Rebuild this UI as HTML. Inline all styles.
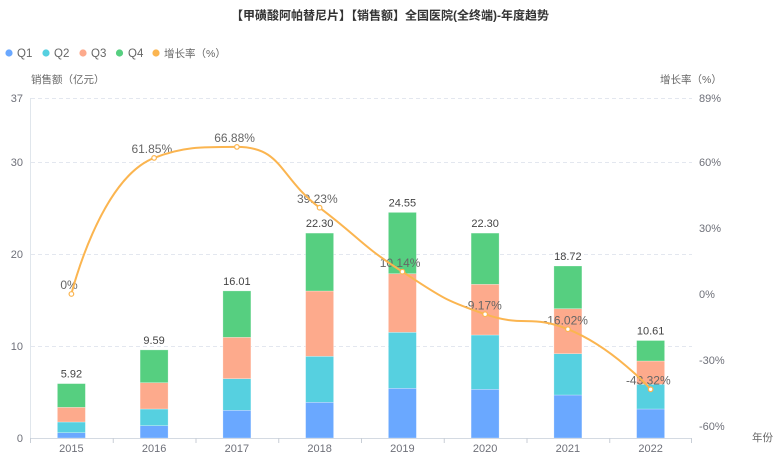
<!DOCTYPE html>
<html>
<head>
<meta charset="utf-8">
<style>
html,body{margin:0;padding:0;background:#fff;}
svg{display:block;}
text{font-family:"Liberation Sans","Noto Sans CJK SC",sans-serif;}
</style>
</head>
<body>
<svg width="775" height="458" viewBox="0 0 775 458" xmlns="http://www.w3.org/2000/svg">
<rect width="775" height="458" fill="#fff"/>
<!-- title -->
<text x="390" y="19.5" text-anchor="middle" font-size="12" font-weight="bold" fill="#333">【甲磺酸阿帕替尼片】【销售额】全国医院(全终端)-年度趋势</text>

<!-- legend -->
<g font-size="11.5" fill="#666">
<circle cx="9" cy="53" r="3.6" fill="#6aa8ff"/><text x="17" y="57">Q1</text>
<circle cx="46" cy="53" r="3.6" fill="#56d0e0"/><text x="54" y="57">Q2</text>
<circle cx="83" cy="53" r="3.6" fill="#fdaa8c"/><text x="91" y="57">Q3</text>
<circle cx="119.5" cy="53" r="3.6" fill="#56cf80"/><text x="128" y="57">Q4</text>
<circle cx="156" cy="53" r="3.6" fill="#fbb550"/><text x="164" y="57" font-size="10.5">增长率（%）</text>
</g>

<!-- axis names -->
<text x="31" y="83" font-size="10.5" fill="#666">销售额（亿元）</text>
<text x="660" y="83" font-size="10.5" fill="#666">增长率（%）</text>
<text x="752" y="441" font-size="10.5" fill="#666">年份</text>

<!-- gridlines -->
<g stroke="#e3e7ef" stroke-width="1" stroke-dasharray="4,3">
<line x1="31" y1="98.5" x2="692" y2="98.5"/>
<line x1="31" y1="162.5" x2="692" y2="162.5"/>
<line x1="31" y1="254.5" x2="692" y2="254.5"/>
<line x1="31" y1="346.5" x2="692" y2="346.5"/>
</g>
<!-- left axis line -->
<line x1="30.5" y1="98" x2="30.5" y2="438" stroke="#e0e6ec" stroke-width="1"/>

<!-- left axis labels -->
<g font-size="11" fill="#6e7079" text-anchor="end">
<text x="23" y="102">37</text>
<text x="23" y="166">30</text>
<text x="23" y="258">20</text>
<text x="23" y="350">10</text>
<text x="23" y="442">0</text>
</g>
<!-- right axis labels -->
<g font-size="11" fill="#6e7079">
<text x="699" y="102">89%</text>
<text x="699" y="166">60%</text>
<text x="699" y="232">30%</text>
<text x="699" y="298">0%</text>
<text x="699" y="364">-30%</text>
<text x="699" y="430">-60%</text>
</g>

<!-- bars -->
<g stroke="rgba(255,255,255,0.45)" stroke-width="0.6">
<!-- 2015 c=71.375 -->
<rect x="57.4" y="432.7" width="28" height="5.3" fill="#6aa8ff"/>
<rect x="57.4" y="422" width="28" height="10.7" fill="#56d0e0"/>
<rect x="57.4" y="407.3" width="28" height="14.7" fill="#fdaa8c"/>
<rect x="57.4" y="383.6" width="28" height="23.7" fill="#56cf80"/>
<!-- 2016 c=154.125 -->
<rect x="140.1" y="425.7" width="28" height="12.3" fill="#6aa8ff"/>
<rect x="140.1" y="409" width="28" height="16.7" fill="#56d0e0"/>
<rect x="140.1" y="382.7" width="28" height="26.3" fill="#fdaa8c"/>
<rect x="140.1" y="349.9" width="28" height="32.8" fill="#56cf80"/>
<!-- 2017 c=236.875 -->
<rect x="222.9" y="410.3" width="28" height="27.7" fill="#6aa8ff"/>
<rect x="222.9" y="378.7" width="28" height="31.6" fill="#56d0e0"/>
<rect x="222.9" y="337.3" width="28" height="41.4" fill="#fdaa8c"/>
<rect x="222.9" y="290.9" width="28" height="46.4" fill="#56cf80"/>
<!-- 2018 c=319.625 -->
<rect x="305.6" y="402.3" width="28" height="35.7" fill="#6aa8ff"/>
<rect x="305.6" y="356.3" width="28" height="46" fill="#56d0e0"/>
<rect x="305.6" y="291" width="28" height="65.3" fill="#fdaa8c"/>
<rect x="305.6" y="233.1" width="28" height="57.9" fill="#56cf80"/>
<!-- 2019 c=402.375 -->
<rect x="388.4" y="388.3" width="28" height="49.7" fill="#6aa8ff"/>
<rect x="388.4" y="332.3" width="28" height="56" fill="#56d0e0"/>
<rect x="388.4" y="273.7" width="28" height="58.6" fill="#fdaa8c"/>
<rect x="388.4" y="212.4" width="28" height="61.3" fill="#56cf80"/>
<!-- 2020 c=485.125 -->
<rect x="471.1" y="389.3" width="28" height="48.7" fill="#6aa8ff"/>
<rect x="471.1" y="335" width="28" height="54.3" fill="#56d0e0"/>
<rect x="471.1" y="284.3" width="28" height="50.7" fill="#fdaa8c"/>
<rect x="471.1" y="233.1" width="28" height="51.2" fill="#56cf80"/>
<!-- 2021 c=567.875 -->
<rect x="553.9" y="395" width="28" height="43" fill="#6aa8ff"/>
<rect x="553.9" y="353.7" width="28" height="41.3" fill="#56d0e0"/>
<rect x="553.9" y="308.7" width="28" height="45" fill="#fdaa8c"/>
<rect x="553.9" y="266" width="28" height="42.7" fill="#56cf80"/>
<!-- 2022 c=650.625 -->
<rect x="636.6" y="409" width="28" height="29" fill="#6aa8ff"/>
<rect x="636.6" y="384.3" width="28" height="24.7" fill="#56d0e0"/>
<rect x="636.6" y="361" width="28" height="23.3" fill="#fdaa8c"/>
<rect x="636.6" y="340.5" width="28" height="20.5" fill="#56cf80"/>
</g>

<!-- x axis -->
<line x1="30" y1="438.5" x2="692" y2="438.5" stroke="#d4dae2" stroke-width="1"/>
<g stroke="#c8ced6" stroke-width="1">
<line x1="30.5" y1="438" x2="30.5" y2="443"/>
<line x1="113.25" y1="438" x2="113.25" y2="443"/>
<line x1="196" y1="438" x2="196" y2="443"/>
<line x1="278.75" y1="438" x2="278.75" y2="443"/>
<line x1="361.5" y1="438" x2="361.5" y2="443"/>
<line x1="444.25" y1="438" x2="444.25" y2="443"/>
<line x1="527" y1="438" x2="527" y2="443"/>
<line x1="609.75" y1="438" x2="609.75" y2="443"/>
<line x1="691.5" y1="438" x2="691.5" y2="443"/>
</g>
<g font-size="11" fill="#6e7079" text-anchor="middle">
<text x="71.4" y="452">2015</text>
<text x="154.1" y="452">2016</text>
<text x="236.9" y="452">2017</text>
<text x="319.6" y="452">2018</text>
<text x="402.4" y="452">2019</text>
<text x="485.1" y="452">2020</text>
<text x="567.9" y="452">2021</text>
<text x="650.6" y="452">2022</text>
</g>

<!-- bar total labels -->
<g font-size="11" fill="#444" text-anchor="middle">
<text x="71.4" y="377.5">5.92</text>
<text x="154.1" y="344">9.59</text>
<text x="236.9" y="285">16.01</text>
<text x="319.6" y="227">22.30</text>
<text x="402.4" y="206.5">24.55</text>
<text x="485.1" y="227">22.30</text>
<text x="567.9" y="260">18.72</text>
<text x="650.6" y="334.5">10.61</text>
</g>

<!-- line labels -->
<g font-size="12" fill="#666" text-anchor="middle">
<text x="69" y="289">0%</text>
<text x="151.8" y="153">61.85%</text>
<text x="234.6" y="142">66.88%</text>
<text x="317.3" y="203">39.23%</text>
<text x="400.1" y="267">10.14%</text>
<text x="482.8" y="309.5">-9.17%</text>
<text x="565.6" y="324.5">-16.02%</text>
<text x="648.3" y="384.5">-43.32%</text>
</g>

<!-- growth line -->
<path d="M71.4,294 C71.4,294 99.82,178.87 154.1,157.9 C182.57,146.9 199.77,146.9 236.9,146.9 C282.52,146.9 278.63,176.8 319.6,207.7 C361.37,239.2 358.58,243.51 402.4,271.7 C441.33,296.75 441.67,299.11 485.1,314.2 C524.41,327.86 530.54,314.2 567.9,329.2 C613.29,347.42 650.6,389.3 650.6,389.3" fill="none" stroke="#fbb550" stroke-width="2"/>
<g fill="#fff" stroke="#fbb550" stroke-width="1.2">
<circle cx="71.4" cy="294" r="2.3"/>
<circle cx="154.1" cy="157.9" r="2.3"/>
<circle cx="236.9" cy="146.9" r="2.3"/>
<circle cx="319.6" cy="207.7" r="2.3"/>
<circle cx="402.4" cy="271.7" r="2.3"/>
<circle cx="485.1" cy="314.2" r="2.3"/>
<circle cx="567.9" cy="329.2" r="2.3"/>
<circle cx="650.6" cy="389.3" r="2.3"/>
</g>
</svg>
</body>
</html>
